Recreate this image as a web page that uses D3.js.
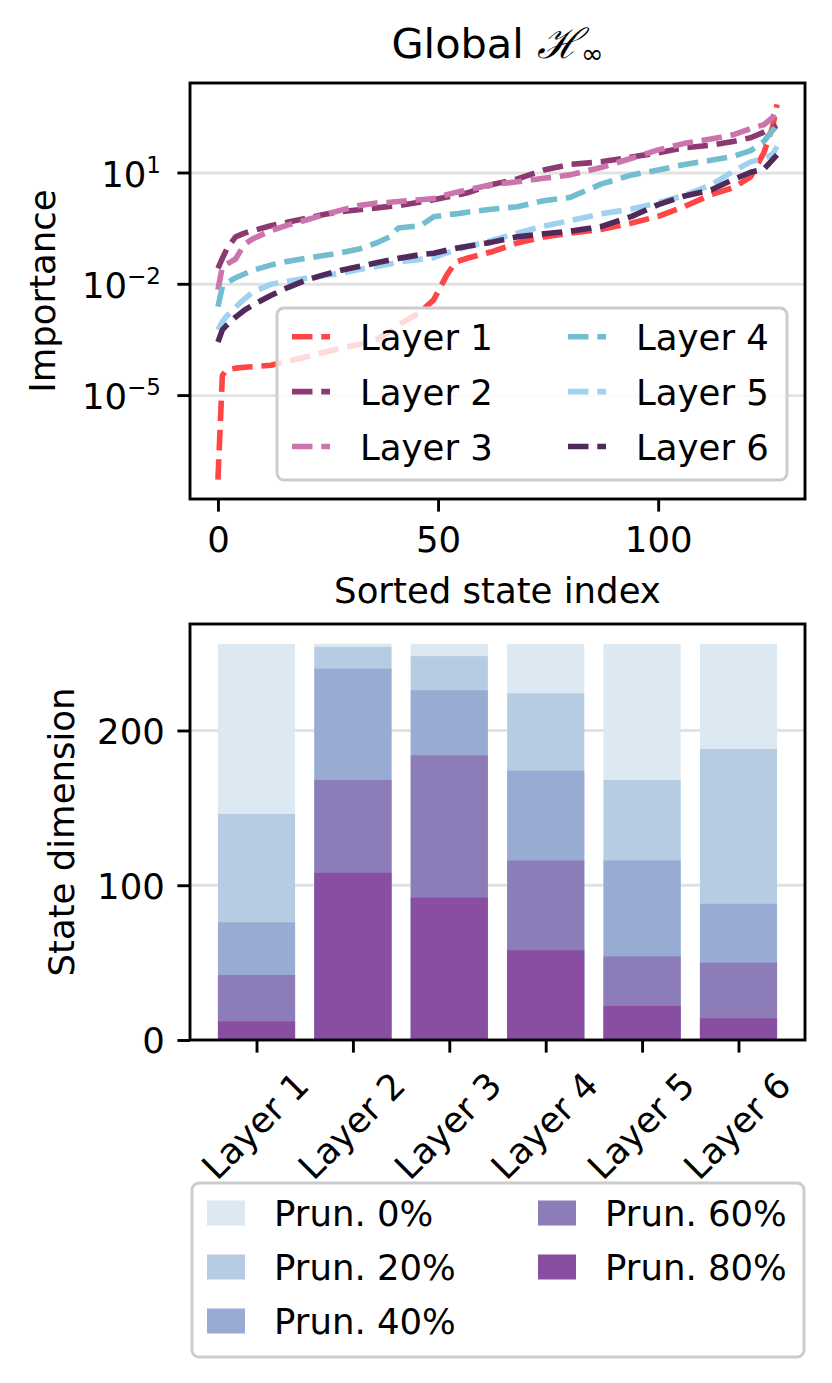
<!DOCTYPE html>
<html>
<head>
<meta charset="utf-8">
<script src="https://cdn.jsdelivr.net/npm/d3@7"></script>
<style>
  body { margin: 0; background: #fff; }
  svg text { font-family: "DejaVu Sans", sans-serif; fill: #000; }
</style>
</head>
<body>
<svg id="chart" width="832" height="1383"></svg>
<script>
// --- data ---
var stateIndex = [0, 1, 2, 4, 6, 8, 12, 16, 20, 24, 28, 32, 36, 39, 41, 46, 49, 52, 54, 57,
  62, 68, 74, 80, 87, 94, 100, 106, 112, 117, 121, 124, 126, 127];

var layer1Importance = [5.4e-8, 3.5e-5, 5.0e-5, 5.5e-5, 5.8e-5, 6.0e-5, 6.6e-5, 8.5e-5, 1.1e-4, 1.45e-4,
  1.9e-4, 2.4e-4, 3.2e-4, 5.2e-4, 7.9e-4, 1.8e-3, 3.8e-3, 1.8e-2, 4.0e-2, 5.2e-2,
  7.4e-2, 0.13, 0.19, 0.24, 0.30, 0.45, 0.68, 1.26, 2.6, 4.0, 7.9, 35, 178, 708];
var layer2Importance = [0.027, 0.050, 0.089, 0.19, 0.24, 0.28, 0.38, 0.48, 0.60, 0.76,
  0.91, 1.02, 1.15, 1.26, 1.32, 1.66, 1.9, 2.24, 2.5, 3.0,
  4.8, 6.9, 12, 17, 20, 27, 35, 48, 56, 71, 89, 126, 166, 191];
var layer3Importance = [0.0071, 0.030, 0.035, 0.048, 0.12, 0.17, 0.28, 0.40, 0.54, 0.74,
  1.0, 1.32, 1.55, 1.62, 1.7, 1.9, 2.04, 2.6, 3.0, 3.6,
  4.8, 5.8, 7.2, 8.9, 14, 25, 42, 63, 83, 107, 158, 200, 316, 562];
var layer4Importance = [0.0025, 0.0087, 0.011, 0.015, 0.019, 0.024, 0.033, 0.042, 0.050, 0.060,
  0.071, 0.089, 0.13, 0.19, 0.33, 0.38, 0.66, 0.74, 0.79, 0.89,
  1.05, 1.23, 1.78, 2.2, 5.0, 8.9, 12, 17, 22, 28, 40, 71, 141, 191];
var layer5Importance = [5.9e-4, 9.8e-4, 1.4e-3, 2.4e-3, 4.0e-3, 6.3e-3, 0.010, 0.012, 0.0145, 0.017,
  0.020, 0.025, 0.030, 0.035, 0.040, 0.047, 0.052, 0.071, 0.083, 0.105,
  0.15, 0.24, 0.37, 0.52, 0.79, 1.07, 1.58, 2.5, 4.8, 11, 20, 25, 32, 52];
var layer6Importance = [2.8e-4, 5.9e-4, 7.9e-4, 1.3e-3, 2.0e-3, 2.8e-3, 5.0e-3, 8.3e-3, 0.013, 0.018,
  0.024, 0.030, 0.038, 0.045, 0.050, 0.063, 0.069, 0.083, 0.093, 0.107,
  0.135, 0.19, 0.23, 0.27, 0.36, 0.68, 1.41, 2.4, 3.5, 6.6, 10.5, 12.6, 23, 31];

var layerNames = ['Layer 1', 'Layer 2', 'Layer 3', 'Layer 4', 'Layer 5', 'Layer 6'];
var importanceTicks = [1e-5, 1e-2, 1e1];
var importanceTickExp = ['\u22125', '\u22122', '1'];
var stateTicks = [0, 50, 100];

var pruningLabels = ['Prun. 0%', 'Prun. 20%', 'Prun. 40%', 'Prun. 60%', 'Prun. 80%'];
var prun0 = [256, 256, 256, 256, 256, 256];
var prun20 = [146, 254, 248, 224, 168, 188];
var prun40 = [76, 240, 226, 174, 116, 88];
var prun60 = [42, 168, 184, 116, 54, 50];
var prun80 = [12, 108, 92, 58, 22, 14];
var dimTicks = [0, 100, 200];

// --- styles ---
var lineColors = ['#ff4545', '#8e3a72', '#cc74ad', '#72bdd0', '#9fd1f0', '#512a5c'];
var barColors = ['#dce8f2', '#b6cce3', '#98acd3', '#8c7db9', '#894ea2'];
var FONT = 35.5, SPINE = 2.9, TICK = 12.6, PAD = 12.6, GRID = '#e2e2e2';
var LW = 5.6, DASH = '20.5,8.8';

var svg = d3.select('#chart');

// ================= top panel =================
var tp = {left: 190, right: 805, top: 83, bottom: 499};
var x1 = d3.scaleLinear().domain([-6.35, 133.35]).range([tp.left, tp.right]);
var y1 = d3.scaleLog().domain([Math.pow(10, -7.787), Math.pow(10, 3.426)]).range([tp.bottom, tp.top]);

svg.append('g').selectAll('line').data(importanceTicks).join('line')
  .attr('x1', tp.left).attr('x2', tp.right)
  .attr('y1', function(d) { return y1(d); }).attr('y2', function(d) { return y1(d); })
  .attr('stroke', GRID).attr('stroke-width', SPINE);

var layers = [layer1Importance, layer2Importance, layer3Importance,
  layer4Importance, layer5Importance, layer6Importance];

var line = d3.line()
  .x(function(d, i) { return x1(stateIndex[i]); })
  .y(function(d) { return y1(d); });

svg.append('g').selectAll('path').data(layers).join('path')
  .attr('d', line)
  .attr('fill', 'none')
  .attr('stroke', function(d, i) { return lineColors[i]; })
  .attr('stroke-width', LW)
  .attr('stroke-dasharray', DASH)
  .attr('stroke-linejoin', 'round');

// x axis
var xAx = svg.append('g').attr('transform', 'translate(0,' + tp.bottom + ')')
  .call(d3.axisBottom(x1).tickValues(stateTicks).tickSize(TICK).tickPadding(PAD).tickSizeOuter(0));
xAx.select('.domain').remove();
xAx.selectAll('line').attr('stroke-width', SPINE);
xAx.selectAll('text').attr('font-size', FONT).attr('font-family', 'DejaVu Sans').attr('dy', '0.77em');

// y axis (log, with superscripts)
var yAx = svg.append('g');
yAx.selectAll('line').data(importanceTicks).join('line')
  .attr('x1', tp.left - TICK).attr('x2', tp.left)
  .attr('y1', function(d) { return y1(d); }).attr('y2', function(d) { return y1(d); })
  .attr('stroke', '#000').attr('stroke-width', SPINE);
var yLbl = yAx.selectAll('text').data(importanceTicks).join('text')
  .attr('x', 161)
  .attr('y', function(d) { return y1(d) + 13.5; })
  .attr('text-anchor', 'end')
  .attr('font-size', FONT);
yLbl.append('tspan').text('10');
yLbl.append('tspan').attr('font-size', 23).attr('dy', -14)
  .text(function(d, i) { return importanceTickExp[i]; });

svg.append('text').attr('x', (tp.left + tp.right) / 2).attr('y', 603)
  .attr('text-anchor', 'middle').attr('font-size', FONT).text('Sorted state index');
svg.append('text').attr('transform', 'translate(55,' + (tp.top + tp.bottom) / 2 + ') rotate(-90)')
  .attr('text-anchor', 'middle').attr('font-size', FONT).text('Importance');

var title = svg.append('text').attr('x', (tp.left + tp.right) / 2).attr('y', 58)
  .attr('text-anchor', 'middle').attr('font-size', 41.5);
title.append('tspan').text('Global ');
title.append('tspan').attr('font-family', 'DejaVu Serif').attr('font-style', 'italic').text('\u210B');
title.append('tspan').attr('font-size', 27).attr('dy', 5).text('\u221E');

svg.append('rect').attr('x', tp.left).attr('y', tp.top)
  .attr('width', tp.right - tp.left).attr('height', tp.bottom - tp.top)
  .attr('fill', 'none').attr('stroke', '#000').attr('stroke-width', SPINE);

// legend (top)
var lg1 = svg.append('g');
lg1.append('rect').attr('x', 277).attr('y', 308).attr('width', 510).attr('height', 172).attr('rx', 7)
  .attr('fill', '#fff').attr('fill-opacity', 0.8).attr('stroke', '#cccccc').attr('stroke-width', SPINE);
var lg1Item = lg1.selectAll('g.item').data(layerNames).join('g').attr('class', 'item')
  .attr('transform', function(d, i) {
    var col = Math.floor(i / 3), row = i % 3;
    return 'translate(' + [292, 568][col] + ',' + (336.7 + row * 54.9) + ')';
  });
lg1Item.append('line').attr('x1', 0).attr('x2', 38).attr('y1', 0).attr('y2', 0)
  .attr('stroke', function(d, i) { return lineColors[i]; })
  .attr('stroke-width', LW).attr('stroke-dasharray', DASH);
lg1Item.append('text').attr('x', 68).attr('dy', '0.37em').attr('font-size', FONT)
  .text(function(d) { return d; });

// ================= bottom panel =================
var bp = {left: 190, right: 805, top: 624, bottom: 1040};
var x2 = d3.scaleLinear().domain([-0.69, 5.69]).range([bp.left, bp.right]);
var y2 = d3.scaleLinear().domain([0, 268.8]).range([bp.bottom, bp.top]);

svg.append('g').selectAll('line').data(dimTicks.slice(1)).join('line')
  .attr('x1', bp.left).attr('x2', bp.right)
  .attr('y1', function(d) { return y2(d); }).attr('y2', function(d) { return y2(d); })
  .attr('stroke', GRID).attr('stroke-width', SPINE);

var prunSeries = [prun0, prun20, prun40, prun60, prun80];
svg.append('g').selectAll('g').data(prunSeries).join('g')
  .attr('fill', function(d, k) { return barColors[k]; })
  .selectAll('rect').data(function(d) { return d; }).join('rect')
  .attr('x', function(d, i) { return x2(i - 0.4); })
  .attr('width', x2(0.8) - x2(0))
  .attr('y', function(d) { return y2(d); })
  .attr('height', function(d) { return y2(0) - y2(d); });

var bxAx = svg.append('g').attr('transform', 'translate(0,' + bp.bottom + ')')
  .call(d3.axisBottom(x2).tickValues(d3.range(layerNames.length)).tickSize(TICK).tickFormat('').tickSizeOuter(0));
bxAx.select('.domain').remove();
bxAx.selectAll('line').attr('stroke-width', SPINE);

svg.append('g').selectAll('text').data(layerNames).join('text')
  .attr('transform', function(d, i) { return 'translate(' + x2(i) + ',1127) rotate(-45)'; })
  .attr('text-anchor', 'middle').attr('dy', '0.3em').attr('font-size', FONT)
  .text(function(d) { return d; });

var byAx = svg.append('g').attr('transform', 'translate(' + bp.left + ',0)')
  .call(d3.axisLeft(y2).tickValues(dimTicks).tickSize(TICK).tickPadding(PAD).tickSizeOuter(0));
byAx.select('.domain').remove();
byAx.selectAll('line').attr('stroke-width', SPINE);
byAx.selectAll('text').attr('font-size', FONT).attr('font-family', 'DejaVu Sans').attr('dy', '0.36em');

svg.append('text').attr('transform', 'translate(74,' + (bp.top + bp.bottom) / 2 + ') rotate(-90)')
  .attr('text-anchor', 'middle').attr('font-size', FONT).text('State dimension');

svg.append('rect').attr('x', bp.left).attr('y', bp.top)
  .attr('width', bp.right - bp.left).attr('height', bp.bottom - bp.top)
  .attr('fill', 'none').attr('stroke', '#000').attr('stroke-width', SPINE);

// legend (bottom)
var lg2 = svg.append('g');
lg2.append('rect').attr('x', 192).attr('y', 1183).attr('width', 612).attr('height', 174).attr('rx', 7)
  .attr('fill', '#fff').attr('stroke', '#cccccc').attr('stroke-width', SPINE);
var lg2Item = lg2.selectAll('g.item').data(pruningLabels).join('g').attr('class', 'item')
  .attr('transform', function(d, i) {
    var col = i < 3 ? 0 : 1, row = i < 3 ? i : i - 3;
    return 'translate(' + [207, 538][col] + ',' + (1213 + row * 54) + ')';
  });
lg2Item.append('rect').attr('x', 0).attr('y', -12.5).attr('width', 38).attr('height', 25)
  .attr('fill', function(d, i) { return barColors[i]; });
lg2Item.append('text').attr('x', 67).attr('dy', '0.37em').attr('font-size', FONT)
  .text(function(d) { return d; });
</script>
</body>
</html>
